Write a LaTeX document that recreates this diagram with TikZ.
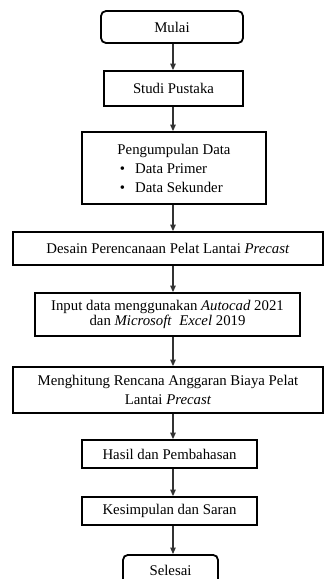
\documentclass[tikz,border=0pt]{standalone}
\usepackage{fontspec}
\setmainfont{Liberation Serif}
\usepackage{tikz}
\usetikzlibrary{arrows.meta}

\begin{document}
\begin{tikzpicture}[x=1pt,y=-1pt]
\tikzstyle{every node}=[font=\fontsize{14.8}{19}\selectfont]
\tikzstyle{box}=[draw, rectangle, line width=1.8pt, inner sep=0pt, align=center]
\tikzstyle{term}=[box, rounded corners=5pt]
\tikzstyle{flow}=[line width=1.1pt, draw=black!80, -{Triangle[length=6.5pt,width=5.5pt]}]
\useasboundingbox (0,0) rectangle (324,579);
\coordinate (ax) at (173,0);
\node [term, minimum width=142, minimum height=32] (mulai) at (172,27) {Mulai};
\node [box, minimum width=139, minimum height=35] (studi) at (173.5,88.5) {Studi Pustaka};
\node [box, minimum width=184, minimum height=72, align=left] (data) at (174,168) {Pengumpulan Data\\\hspace*{2.5pt}\textbullet\hspace{10pt}Data Primer\\\hspace*{2.5pt}\textbullet\hspace{10pt}Data Sekunder};
\node [box, minimum width=310, minimum height=33] (desain) at (168,248.5) {Desain Perencanaan Pelat Lantai \textit{Precast}};
\node [box, minimum width=265, minimum height=43, font=\fontsize{14.8}{12}\selectfont] (input) at (167.5,314.5) {Input data menggunakan \textit{Autocad} 2021\\dan \textit{Microsoft}\ \ \textit{Excel} 2019};
\node [box, minimum width=310, minimum height=46] (hitung) at (168,390) {Menghitung Rencana Anggaran Biaya Pelat\\Lantai \textit{Precast}};
\node [box, minimum width=175, minimum height=28] (hasil) at (169.5,454) {Hasil dan Pembahasan};
\node [box, minimum width=175, minimum height=28] (simpul) at (169.5,511) {Kesimpulan dan Saran};
\node [term, minimum width=95, minimum height=32, anchor=north] (selesai) at (170.5,554) {Selesai};
\draw [flow] (mulai.south -| ax) -- (studi.north -| ax);
\draw [flow] (studi.south -| ax) -- (data.north -| ax);
\draw [flow] (data.south -| ax) -- (desain.north -| ax);
\draw [flow] (desain.south -| ax) -- (input.north -| ax);
\draw [flow] (input.south -| ax) -- (hitung.north -| ax);
\draw [flow] (hitung.south -| ax) -- (hasil.north -| ax);
\draw [flow] (hasil.south -| ax) -- (simpul.north -| ax);
\draw [flow] (simpul.south -| ax) -- (selesai.north -| ax);
\end{tikzpicture}
\end{document}
